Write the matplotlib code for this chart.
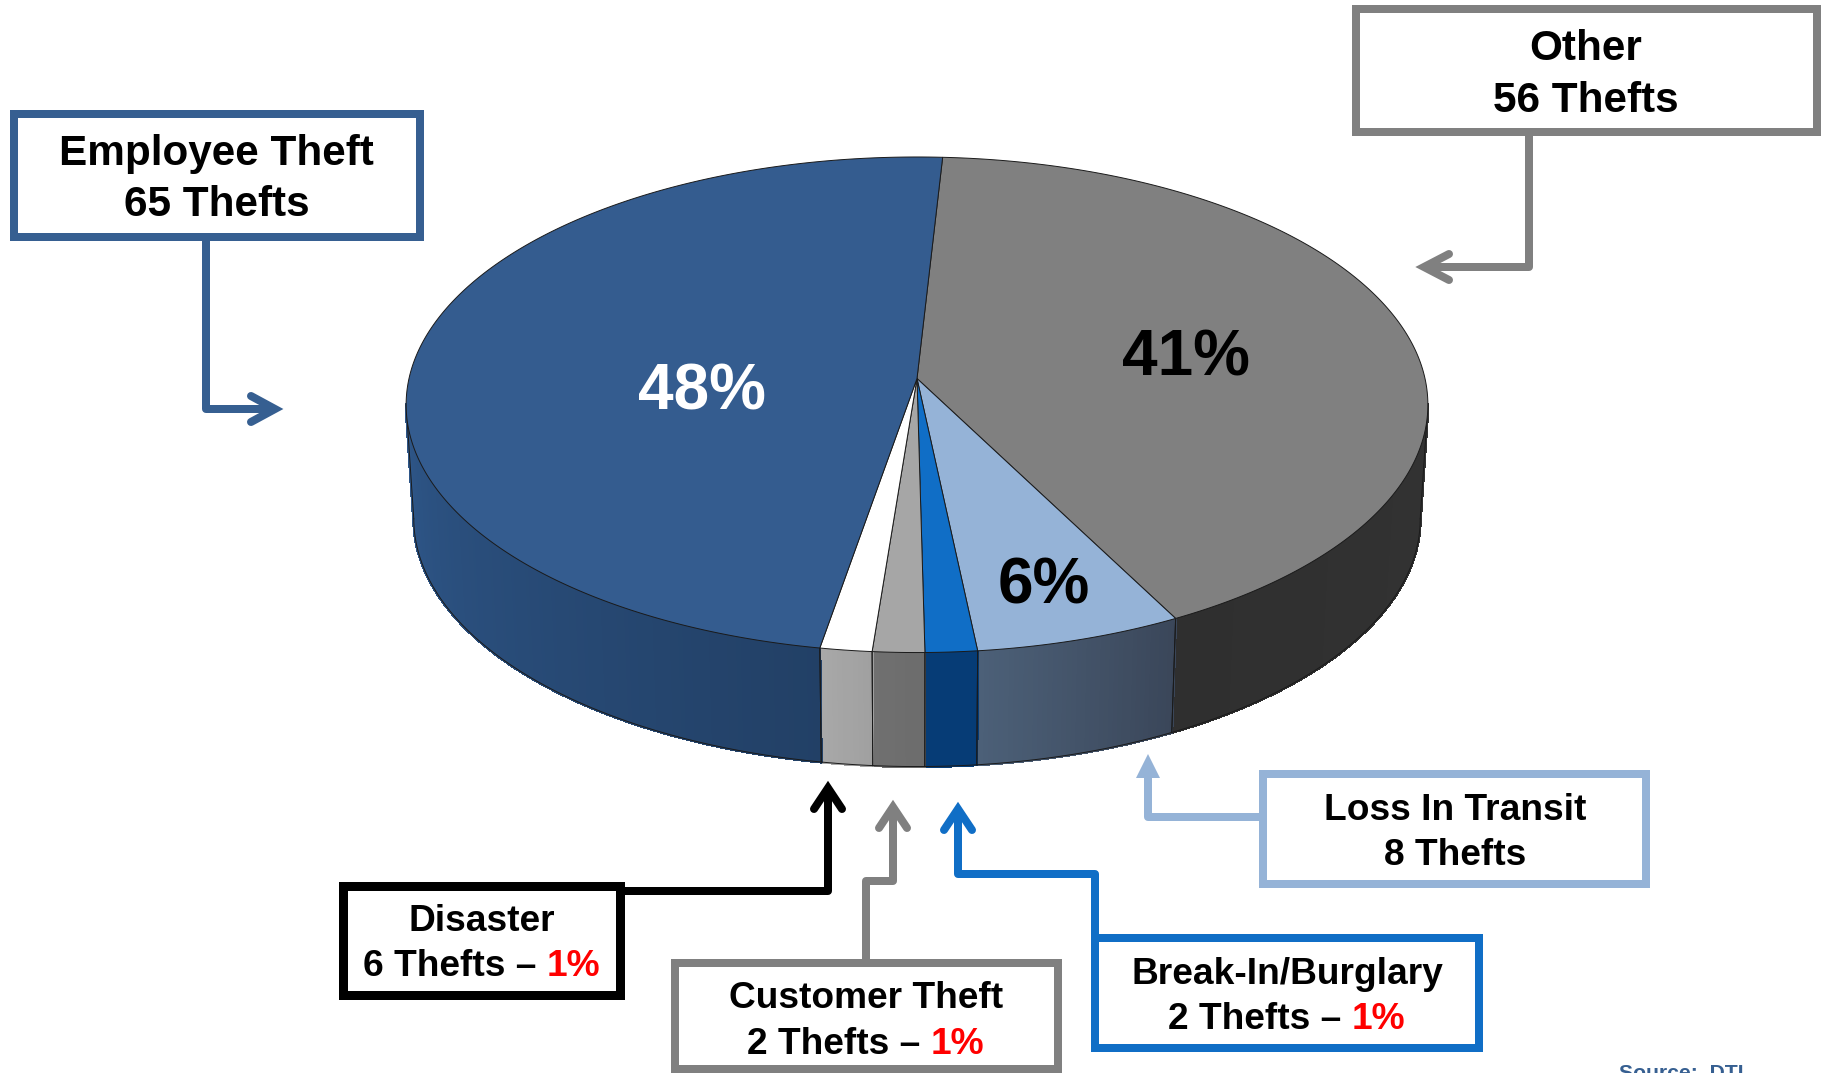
#plot.py
#Retail theft pie, drawn as a tilted 3D disc from the theft counts
import numpy as np
import matplotlib
matplotlib.use('Agg')
import matplotlib.pyplot as plt
from matplotlib.collections import PolyCollection
from matplotlib.patches import Polygon, Rectangle

plt.rcParams['font.family'] = ['Liberation Sans', 'DejaVu Sans']

#clockwise from the top of the pie
categories = ['Other', 'Loss In Transit', 'Break-In/Burglary', 'Customer Theft', 'Disaster', 'Employee Theft']
wedge_values = [56, 8, 2, 2, 2, 65] #disaster slice is drawn as 2 even though its box says 6
top_colors = ['#808080', '#95B3D7', '#106EC6', '#A6A6A6', '#FFFFFF', '#345C8F']
side_colors_left = ['#2F2F2F', '#4C6078', '#063C76', '#707070', '#A8A8A8', '#2E5688']
side_colors_right = ['#333333', '#3A4659', '#063C76', '#6C6C6C', '#A0A0A0', '#224066']
pct_labels = ['41%', '6%', '48%']
START_ANGLE = 86.8

#pie geometry (pixels), k is the perspective strength
CX, CY = 917, 378.5
A, B, k = 508, 245, 0.106
DEPTH, BASE_SCALE = 114, 0.985

fig = plt.figure(figsize=(18.29, 10.73), dpi=100)
ax = fig.add_axes([0, 0, 1, 1])
ax.set_xlim(0, 1829)
ax.set_ylim(1073, 0)
ax.axis('off')


def project(theta, r=1.0):
    #circle point on the tilted disc --> pixel position
    X = r*np.cos(np.radians(theta))
    Y = r*np.sin(np.radians(theta))
    w = 1 + k*Y
    return CX + A*X/w, CY - B*Y/w


def base(x, y):
    return CX + BASE_SCALE*(x - CX), y + DEPTH


def mix(c1, c2, t):
    c1 = np.array(matplotlib.colors.to_rgb(c1))
    c2 = np.array(matplotlib.colors.to_rgb(c2))
    return c1*(1-t) + c2*t


#angles of the slice edges
sweeps = np.array(wedge_values)/sum(wedge_values)*360
edges = START_ANGLE - np.concatenate([[0], np.cumsum(sweeps)])

#side wall: only the part between the two widest points can be seen
vis_hi = -np.degrees(np.arcsin(k))
vis_lo = -180 - vis_hi
for i in range(len(wedge_values)):
    hi = min(edges[i], vis_hi)
    lo = max(edges[i+1], vis_lo)
    if hi <= lo:
        continue
    n = max(int((hi-lo)*2), 2)
    th = np.linspace(hi, lo, n+1)
    x, y = project(th)
    bx, by = base(x, y)
    quads = []
    cols = []
    for j in range(n):
        quads.append([(x[j], y[j]), (x[j+1], y[j+1]), (bx[j+1], by[j+1]), (bx[j], by[j])])
        #left colour sits on the far (clockwise) end of the slice
        cols.append(mix(side_colors_right[i], side_colors_left[i], (j+0.5)/n))
    #thick same-colour edges so no stripes show between the quads
    ax.add_collection(PolyCollection(quads, facecolors=cols, edgecolors=cols, linewidths=1.5,
                                     antialiaseds=False, zorder=2))
    ax.plot(bx, by, color='#1A1A1A', lw=0.7, zorder=3)
    #vertical seams
    ax.plot([x[0], bx[0]], [y[0], by[0]], color='#1A1A1A', lw=0.7, zorder=3)
    ax.plot([x[-1], bx[-1]], [y[-1], by[-1]], color='#1A1A1A', lw=0.7, zorder=3)

#top of the disc
for i in range(len(wedge_values)):
    th = np.linspace(edges[i], edges[i+1], max(int(sweeps[i]*2), 8))
    x, y = project(th)
    pts = np.column_stack([np.r_[CX, x], np.r_[CY, y]])
    ax.add_patch(Polygon(pts, closed=True, facecolor=top_colors[i], edgecolor='#1A1A1A', lw=0.7, zorder=4))


#label boxes, coords are the centre of the frame line
def box(x0, y0, x1, y1, color, lw=8):
    ax.add_patch(Rectangle((x0, y0), x1-x0, y1-y0, facecolor='white', edgecolor=color,
                           lw=lw*0.72, joinstyle='miter', clip_on=True, zorder=6))


def conn(xs, ys, color, lw=8):
    ax.plot(xs, ys, color=color, lw=lw*0.72, solid_joinstyle='round', solid_capstyle='butt', zorder=5)


def head(xs, ys, color, lw=8):
    ax.plot(xs, ys, color=color, lw=lw*0.72, solid_joinstyle='miter', solid_capstyle='round', zorder=5)


def two_lines(cx, y1, y2, line1, line2, size, red=None):
    ax.text(cx, y1, line1, ha='center', va='baseline', fontsize=size, fontweight='bold', color='black', zorder=7)
    if red is None:
        ax.text(cx, y2, line2, ha='center', va='baseline', fontsize=size, fontweight='bold', color='black', zorder=7)
        return
    #second line has a red part, so measure it and place the pieces by hand
    rend = fig.canvas.get_renderer()
    t1 = ax.text(0, y2, line2, ha='left', va='baseline', fontsize=size, fontweight='bold', color='black', zorder=7)
    t2 = ax.text(0, y2, red, ha='left', va='baseline', fontsize=size, fontweight='bold', color='#FF0000', zorder=7)
    #width of a space = difference between these two
    sp = ax.text(0, y2, 'a a', fontsize=size, fontweight='bold')
    sa = ax.text(0, y2, 'aa', fontsize=size, fontweight='bold')
    space = sp.get_window_extent(rend).width - sa.get_window_extent(rend).width
    sp.remove()
    sa.remove()
    w1 = t1.get_window_extent(rend).width + space
    w2 = t2.get_window_extent(rend).width
    t1.set_x(cx - (w1+w2)/2)
    t2.set_x(cx - (w1+w2)/2 + w1)


BIG = 30.4
SMALL = 26.7
EMP = '#365F91'
GREY = '#808080'
LIGHT = '#95B3D7'
BLUE = '#106EC6'

#Employee Theft
conn([206, 206, 272], [237, 409, 409], EMP)
head([251, 275, 251], [396, 409, 422], EMP)
box(13.5, 114, 420, 237, EMP)
two_lines(216.5, 165, 216, 'Employee Theft', '65 Thefts', BIG)

#Other
conn([1529, 1529, 1425], [132, 267, 267], GREY)
head([1449, 1424, 1449], [254, 267, 280], GREY)
box(1356, 9, 1817, 132, GREY)
two_lines(1586, 60, 111.5, 'Other', '56 Thefts', BIG)

#Loss In Transit
conn([1263, 1148, 1148], [817, 817, 776], LIGHT)
ax.add_patch(Polygon([(1148, 754), (1136, 778), (1160, 778)], closed=True, facecolor=LIGHT, edgecolor='none', zorder=5))
box(1263, 774, 1646, 884, LIGHT)
two_lines(1455, 820, 865, 'Loss In Transit', '8 Thefts', SMALL)

#Break-In/Burglary
conn([1095, 1095, 958, 958], [938, 874, 874, 810], BLUE)
head([944, 958, 972], [830, 809, 830], BLUE)
box(1095, 938, 1479, 1048, BLUE)
two_lines(1287, 984, 1029, 'Break-In/Burglary', '2 Thefts –', SMALL, red='1%')

#Customer Theft
conn([866, 866, 893, 893], [963, 881, 881, 808], GREY)
head([879, 893, 907], [828, 807, 828], GREY)
box(675, 963, 1058, 1069, GREY)
two_lines(866, 1008, 1054, 'Customer Theft', '2 Thefts –', SMALL, red='1%')

#Disaster
conn([620, 828, 828], [891, 891, 789], 'black')
head([814, 828, 842], [809, 788, 809], 'black')
box(343, 886, 620, 995, 'black', 9)
two_lines(482, 931, 976, 'Disaster', '6 Thefts –', SMALL, red='1%')

#percent labels on the slices
ax.text(702, 410, pct_labels[2], ha='center', va='baseline', fontsize=46, fontweight='bold', color='white', zorder=7)
ax.text(1186, 375, pct_labels[0], ha='center', va='baseline', fontsize=46, fontweight='bold', color='black', zorder=7)
ax.text(1044, 603, pct_labels[1], ha='center', va='baseline', fontsize=46, fontweight='bold', color='black', zorder=7)

#source note runs off the bottom of the page, same as the original
ax.text(1619, 1079, 'Source:  DTI', ha='left', va='baseline', fontsize=15.2, fontweight='bold', color=EMP, zorder=7)

fig.savefig('out.png', dpi=100)
